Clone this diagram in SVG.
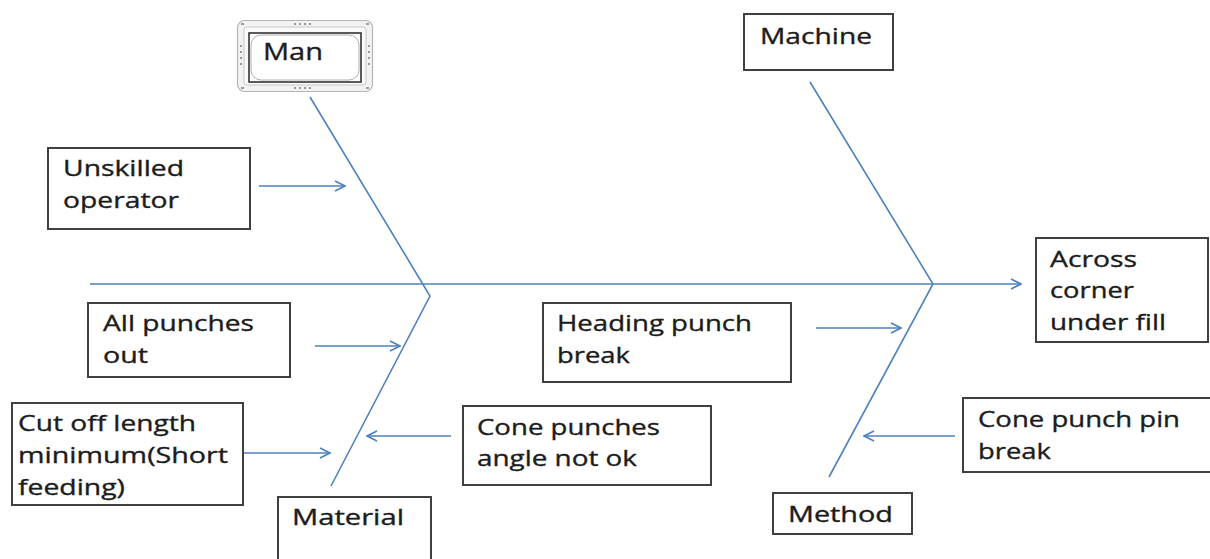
<svg xmlns="http://www.w3.org/2000/svg" width="1210" height="559" viewBox="0 0 1210 559">
  <defs>
    <marker id="arrow" viewBox="0 0 12 12" refX="11" refY="6" markerWidth="12" markerHeight="12" markerUnits="userSpaceOnUse" orient="auto">
      <path d="M1,1 L11,6 L1,11" fill="none" stroke="#4F81BD" stroke-width="1.6"/>
    </marker>
    <style>
      .box { fill: #ffffff; stroke: #404040; stroke-width: 2; }
      .lbl { font-family: "Open Sans", "Liberation Sans", sans-serif; font-size: 22px; fill: #1c1c1c; stroke: #1c1c1c; stroke-width: 0.35; }
      .bone { stroke: #4F81BD; stroke-width: 1.6; fill: none; }
      .cause { stroke: #4F81BD; stroke-width: 1.4; fill: none; marker-end: url(#arrow); }
      .dot { fill: #9a9a9a; }
    </style>
  </defs>

  <rect width="1210" height="559" fill="#ffffff"/>

  <!-- spine and category bones -->
  <g id="connectors">
    <line class="bone" x1="90" y1="284" x2="1021" y2="284" marker-end="url(#arrow)"/>
    <polyline class="bone" points="310,97 430,296 331,486"/>
    <polyline class="bone" points="810,82 933,284 829,477"/>
    <line class="cause" x1="259" y1="186" x2="345" y2="186"/>
    <line class="cause" x1="315" y1="346" x2="400" y2="346"/>
    <line class="cause" x1="244" y1="453" x2="330" y2="453"/>
    <line class="cause" x1="451" y1="436" x2="367" y2="436"/>
    <line class="cause" x1="816" y1="328" x2="901" y2="328"/>
    <line class="cause" x1="955" y1="436" x2="864" y2="436"/>
  </g>

  <!-- category: Man (framed) -->
  <g id="man">
    <rect x="237.5" y="20.5" width="135" height="71" rx="7" fill="#f2f2f2" stroke="#b5b5b5" stroke-width="1.2"/>
    <rect x="244" y="27" width="122" height="58" rx="3" fill="#fafafa" stroke="#c8c8c8" stroke-width="1"/>
    <rect x="249" y="33" width="112" height="49" fill="#ffffff" stroke="#333333" stroke-width="1.6"/>
    <rect x="251" y="35" width="108" height="45" rx="10" fill="#ffffff" stroke="#9a9a9a" stroke-width="0.8"/>
    <g class="dot">
      <rect x="294" y="23" width="2" height="2"/><rect x="299" y="23" width="2" height="2"/><rect x="304" y="23" width="2" height="2"/><rect x="309" y="23" width="2" height="2"/>
      <rect x="294" y="87" width="2" height="2"/><rect x="299" y="87" width="2" height="2"/><rect x="304" y="87" width="2" height="2"/><rect x="309" y="87" width="2" height="2"/>
      <rect x="240" y="45" width="2" height="2"/><rect x="240" y="51" width="2" height="2"/><rect x="240" y="57" width="2" height="2"/><rect x="240" y="63" width="2" height="2"/>
      <rect x="368" y="45" width="2" height="2"/><rect x="368" y="51" width="2" height="2"/><rect x="368" y="57" width="2" height="2"/><rect x="368" y="63" width="2" height="2"/>
      <rect x="241" y="23" width="3" height="2"/><rect x="366" y="23" width="3" height="2"/><rect x="241" y="87" width="3" height="2"/><rect x="366" y="87" width="3" height="2"/>
    </g>
    <text class="lbl" x="263" y="60" style="font-size:24px" textLength="60" lengthAdjust="spacingAndGlyphs">Man</text>
  </g>

  <!-- category: Machine -->
  <g id="machine">
    <rect class="box" x="744" y="14" width="149" height="56"/>
    <text class="lbl" x="760" y="44" textLength="112" lengthAdjust="spacingAndGlyphs">Machine</text>
  </g>

  <!-- category: Material -->
  <g id="material">
    <rect class="box" x="278" y="497" width="153" height="70"/>
    <text class="lbl" x="292" y="525" textLength="112" lengthAdjust="spacingAndGlyphs">Material</text>
  </g>

  <!-- category: Method -->
  <g id="method">
    <rect class="box" x="773" y="493" width="139" height="41"/>
    <text class="lbl" x="788" y="522" textLength="105" lengthAdjust="spacingAndGlyphs">Method</text>
  </g>

  <!-- effect -->
  <g id="effect">
    <rect class="box" x="1036" y="238" width="172" height="104"/>
    <text class="lbl" x="1050" y="267" textLength="87" lengthAdjust="spacingAndGlyphs">Across</text>
    <text class="lbl" x="1050" y="298" textLength="84" lengthAdjust="spacingAndGlyphs">corner</text>
    <text class="lbl" x="1050" y="330" textLength="116" lengthAdjust="spacingAndGlyphs">under fill</text>
  </g>

  <!-- causes -->
  <g id="unskilled-operator">
    <rect class="box" x="48" y="148" width="202" height="81"/>
    <text class="lbl" x="63" y="176" textLength="121" lengthAdjust="spacingAndGlyphs">Unskilled</text>
    <text class="lbl" x="63" y="208" textLength="116" lengthAdjust="spacingAndGlyphs">operator</text>
  </g>

  <g id="all-punches-out">
    <rect class="box" x="88" y="303" width="202" height="74"/>
    <text class="lbl" x="103" y="331" textLength="151" lengthAdjust="spacingAndGlyphs">All punches</text>
    <text class="lbl" x="103" y="363" textLength="45" lengthAdjust="spacingAndGlyphs">out</text>
  </g>

  <g id="cut-off-length">
    <rect class="box" x="12" y="403" width="231" height="102"/>
    <text class="lbl" x="18" y="431" textLength="178" lengthAdjust="spacingAndGlyphs">Cut off length</text>
    <text class="lbl" x="18" y="463" textLength="210" lengthAdjust="spacingAndGlyphs">minimum(Short</text>
    <text class="lbl" x="18" y="495" textLength="107" lengthAdjust="spacingAndGlyphs">feeding)</text>
  </g>

  <g id="cone-punches-angle">
    <rect class="box" x="463" y="406" width="248" height="79"/>
    <text class="lbl" x="477" y="435" textLength="183" lengthAdjust="spacingAndGlyphs">Cone punches</text>
    <text class="lbl" x="477" y="466" textLength="160" lengthAdjust="spacingAndGlyphs">angle not ok</text>
  </g>

  <g id="heading-punch-break">
    <rect class="box" x="543" y="303" width="248" height="79"/>
    <text class="lbl" x="557" y="331" textLength="195" lengthAdjust="spacingAndGlyphs">Heading punch</text>
    <text class="lbl" x="557" y="363" textLength="73" lengthAdjust="spacingAndGlyphs">break</text>
  </g>

  <g id="cone-punch-pin-break">
    <rect class="box" x="963" y="398" width="250" height="74"/>
    <text class="lbl" x="978" y="427" textLength="202" lengthAdjust="spacingAndGlyphs">Cone punch pin</text>
    <text class="lbl" x="978" y="459" textLength="73" lengthAdjust="spacingAndGlyphs">break</text>
  </g>
</svg>
